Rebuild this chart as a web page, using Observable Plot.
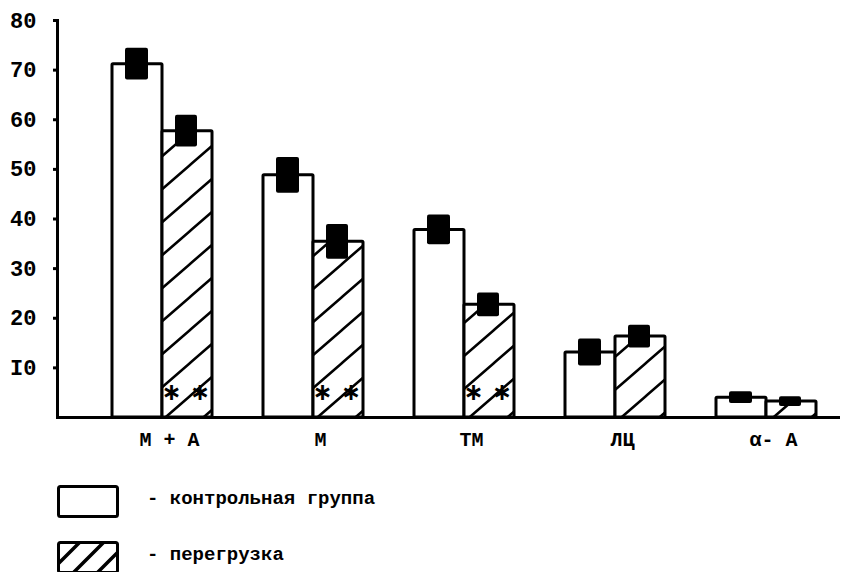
<!DOCTYPE html>
<html><head><meta charset="utf-8">
<script src="https://cdn.jsdelivr.net/npm/d3@7"></script>
<script src="https://cdn.jsdelivr.net/npm/@observablehq/plot@0.6"></script>
<style>
body{margin:0;background:#fff;font-family:"Liberation Mono",monospace;}
#chart svg{display:block}
.legend{margin-left:57px;margin-top:24px;}
.row{display:flex;align-items:center;height:31px;}
.row + .row{margin-top:25px}
.row svg{display:block}
.row span{margin-left:28px;font-size:19px;font-weight:bold;color:#000;white-space:pre;position:relative;top:-3px;}
</style></head><body>
<div id="chart"></div>
<div class="legend">
  <div class="row"><svg width="62" height="33"><rect x="1.5" y="1.5" width="59" height="30" rx="2" fill="white" stroke="black" stroke-width="3"/></svg><span id="l1"></span></div>
  <div class="row"><svg width="62" height="33"><defs><pattern id="hatchL" patternUnits="userSpaceOnUse" width="24" height="24"><rect width="24" height="24" fill="white"/><path d="M0,24 L24,0 M-12,12 L12,-12 M12,36 L36,12" stroke="black" stroke-width="3.5"/></pattern></defs><rect x="1.5" y="1.5" width="59" height="30" rx="2" fill="url(#hatchL)" stroke="black" stroke-width="3"/></svg><span id="l2"></span></div>
</div>
<script>
const categories = ["М + А", "М", "ТМ", "ЛЦ", "α- А"];
const control = [71.2, 48.8, 37.8, 13.1, 4.0];
const overload = [57.7, 35.4, 22.7, 16.3, 3.2];
const controlErr = [3.2, 3.6, 3.0, 2.7, 1.2];
const overloadErr = [3.2, 3.5, 2.4, 2.3, 1.0];
const significance = ["∗ ∗", "∗ ∗", "∗ ∗", "", ""];
const yTicks = [10, 20, 30, 40, 50, 60, 70, 80];
const yTickLabels = ["I0", "20", "30", "40", "50", "60", "70", "80"];
const seriesNames = ["- контрольная группа", "- перегрузка"];

document.getElementById("l1").textContent = seriesNames[0];
document.getElementById("l2").textContent = seriesNames[1];

const rows = categories.map((c, i) => ({
  cat: c, control: control[i], overload: overload[i],
  ce: controlErr[i], oe: overloadErr[i], sig: significance[i]
}));

const chart = Plot.plot({
  width: 845, height: 462,
  marginTop: 20, marginBottom: 45, marginLeft: 57, marginRight: 5,
  style: {fontFamily: "Liberation Mono, monospace", fontSize: "20px", fontWeight: "bold", color: "#000", background: "#fff"},
  x: {domain: categories, paddingInner: 0.34, paddingOuter: 0.2525, align: 0.692, axis: null},
  y: {domain: [0, 80], axis: null},
  marks: [
    Plot.barY(rows, {x: "cat", y: "control", fill: "white", stroke: "black", strokeWidth: 3, insetRight: 50, rx: 1}),
    Plot.barY(rows, {x: "cat", y: "overload", fill: "url(#hatch)", stroke: "black", strokeWidth: 3, insetLeft: 50, rx: 1}),
    Plot.barY(rows, {x: "cat", y1: d => d.control - d.ce, y2: d => d.control + d.ce, fill: "black", insetLeft: 13, insetRight: 64, rx: 2}),
    Plot.barY(rows, {x: "cat", y1: d => d.overload - d.oe, y2: d => d.overload + d.oe, fill: "black", insetLeft: 63, insetRight: 15, rx: 2}),
    Plot.text(rows, {x: "cat", text: "sig", frameAnchor: "bottom", dx: 23, dy: -18, fontFamily: "DejaVu Sans", fontSize: 24, fontWeight: "bold", letterSpacing: "-2px"}),
    Plot.ruleY([0], {strokeWidth: 3}),
    Plot.frame({anchor: "left", strokeWidth: 3}),
    Plot.axisY({ticks: yTicks, tickSize: 4, tickPadding: 17, strokeWidth: 3, fontSize: 22, tickFormat: d => yTickLabels[yTicks.indexOf(d)], label: null}),
    Plot.axisX({tickSize: 0, tickPadding: 14, dx: 7, label: null})
  ]
});

const svg = chart.tagName.toLowerCase() === "svg" ? chart : chart.querySelector("svg");
const ns = "http://www.w3.org/2000/svg";
const defs = document.createElementNS(ns, "defs");
defs.innerHTML = '<pattern id="hatch" patternUnits="userSpaceOnUse" width="38" height="33">' +
  '<rect width="38" height="33" fill="white"/>' +
  '<path d="M0,33 L38,0 M-38,33 L0,0 M38,33 L76,0 M-19,49.5 L19,16.5 M19,16.5 L57,-16.5 M-19,16.5 L19,-16.5 M19,49.5 L57,16.5" stroke="black" stroke-width="2.5"/></pattern>';
svg.insertBefore(defs, svg.firstChild);
document.getElementById("chart").appendChild(chart);
</script>
</body></html>
